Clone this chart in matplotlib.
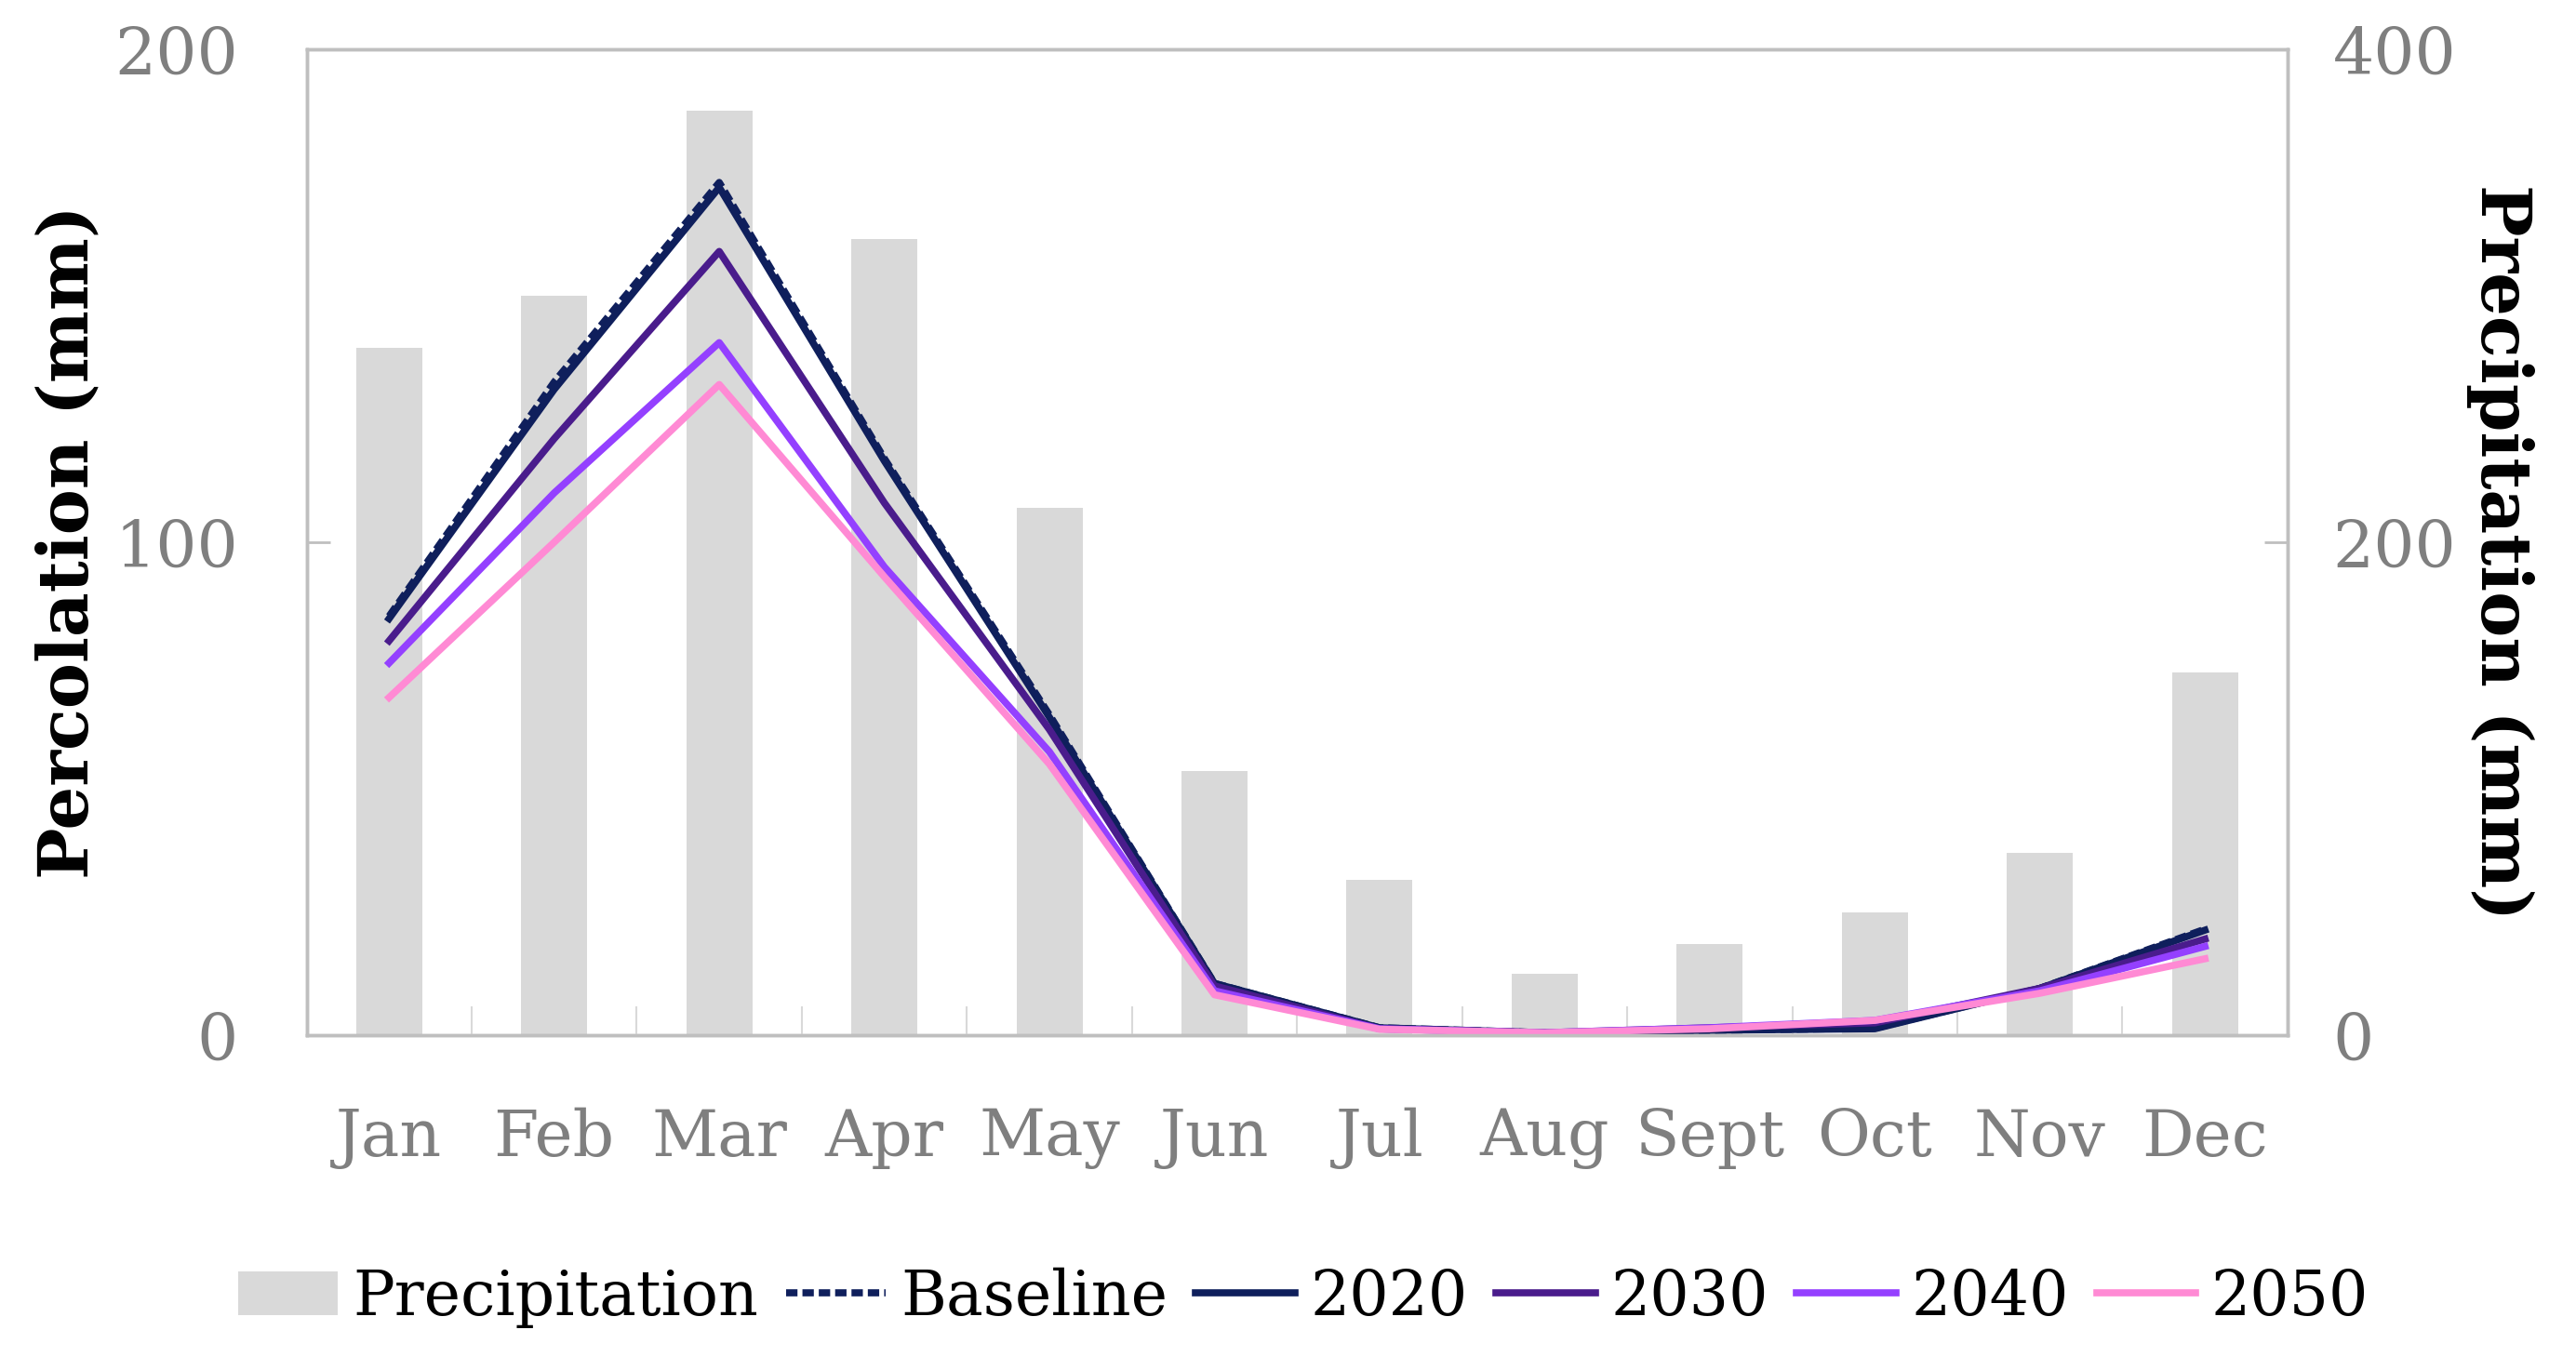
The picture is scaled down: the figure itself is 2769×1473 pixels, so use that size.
import matplotlib
matplotlib.use("Agg")
import matplotlib.pyplot as plt
import numpy as np

months = ['Jan', 'Feb', 'Mar', 'Apr', 'May', 'Jun', 'Jul', 'Aug', 'Sept', 'Oct', 'Nov', 'Dec']
precipitation = [279, 300, 375, 323, 214, 107, 63, 25, 37, 50, 74, 147]
baseline = [85, 132.5, 173, 117, 65, 10.5, 1.5, 0.5, 1, 1.4, 9.5, 21.5]
perc_2020 = [84.5, 131, 172, 116.5, 64.5, 10.5, 1.5, 0.5, 1, 1.3, 9.5, 21.3]
perc_2030 = [80, 121, 159, 108, 62, 10, 1.3, 0.5, 1.5, 2.5, 9.5, 19.5]
perc_2040 = [75.5, 110, 140.5, 95, 57.5, 9, 1.3, 0.5, 1.5, 3, 9, 18]
perc_2050 = [68.5, 100, 132, 93, 55, 8.2, 1.2, 0.5, 1.3, 3, 8.5, 15.5]

plt.rcParams['font.family'] = ['DejaVu Serif']

x = np.arange(len(months))
grey_txt = '#7f7f7f'
frame = '#bfbfbf'
lw = 5.5

fig = plt.figure(figsize=(27.69, 14.73), dpi=100)
ax = fig.add_axes([0.119, 0.2444, 0.769, 0.7196])
ax2 = ax.twinx()

# bars on the right axis, kept behind the lines
bars = ax2.bar(x, precipitation, width=0.4, color='#d9d9d9', label='Precipitation')
ax.set_zorder(ax2.get_zorder() + 1)
ax.patch.set_visible(False)

l_base, = ax.plot(x, baseline, color='#0f1f5c', lw=lw, dashes=(1.6, 0.7), label='Baseline')
l20, = ax.plot(x, perc_2020, color='#0f1f5c', lw=lw, label='2020')
l30, = ax.plot(x, perc_2030, color='#4a1c8c', lw=lw, label='2030')
l40, = ax.plot(x, perc_2040, color='#9440ff', lw=lw, label='2040')
l50, = ax.plot(x, perc_2050, color='#ff8ad4', lw=lw, label='2050')

ax.set_xlim(-0.5, 11.5)
ax.set_ylim(0, 200)
ax2.set_ylim(0, 400)
ax.set_yticks([0, 100, 200])
ax2.set_yticks([0, 200, 400])
ax.set_xticks(x)
ax.set_xticklabels(months)
ax.set_xticks(np.arange(-0.5, 12, 1), minor=True)

ax.tick_params(axis='x', which='major', length=0, pad=56, labelsize=50, labelcolor=grey_txt)
ax.tick_params(axis='x', which='minor', direction='in', length=22, width=1.5, color='#d9d9d9')
ax.tick_params(axis='y', direction='in', length=18, width=2, color=frame, pad=53,
               labelsize=50, labelcolor=grey_txt)
ax2.tick_params(axis='y', direction='in', length=18, width=2, color=frame, pad=35,
                labelsize=50, labelcolor=grey_txt)

for a in (ax, ax2):
    for s in a.spines.values():
        s.set_color(frame)
        s.set_linewidth(2.5)

ax.set_ylabel('Percolation (mm)', fontsize=53, fontweight='bold', color='black')
ax.yaxis.set_label_coords(-0.103, 0.5)
ax2.set_ylabel('Precipitation (mm)', fontsize=53, fontweight='bold', color='black',
               rotation=270, va='bottom')
ax2.yaxis.set_label_coords(1.09, 0.49)

fig.legend(handles=[bars, l_base, l20, l30, l40, l50], loc='center',
           bbox_to_anchor=(0.506, 0.053), ncol=6, frameon=False, fontsize=48,
           handlelength=1.6, handletextpad=0.25, columnspacing=0.45)

fig.savefig('out.png', dpi=100)
plt.close()
